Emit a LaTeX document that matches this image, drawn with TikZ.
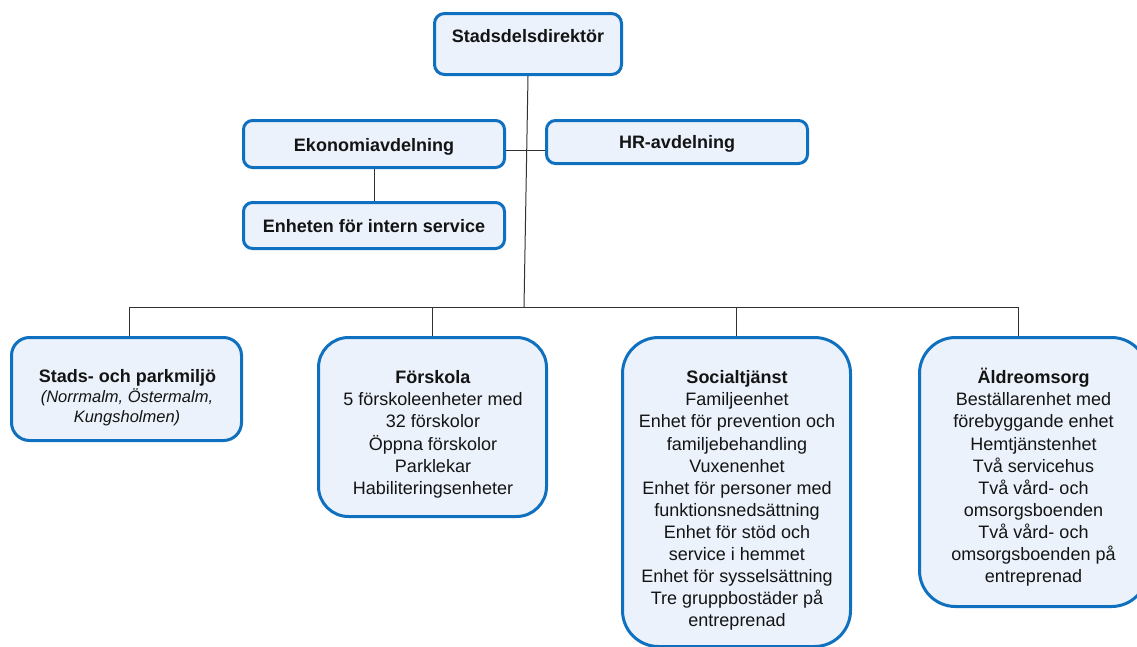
\documentclass[tikz,border=0pt]{standalone}
\usepackage{fontspec}
\setmainfont{Liberation Sans}
\definecolor{boxblue}{RGB}{16,112,192}
\definecolor{boxfill}{RGB}{235,242,251}
\definecolor{linegray}{RGB}{50,50,50}
\definecolor{txtblack}{RGB}{20,20,20}
\begin{document}
\begin{tikzpicture}[x=1pt,y=-1pt,
  box/.style={draw=boxblue, fill=boxfill, line width=3pt, rounded corners=#1, inner sep=0pt},
  box/.default=9pt,
  title/.style={inner sep=0pt, text=txtblack, font=\fontsize{18}{22.1}\selectfont\bfseries},
  txt/.style={inner sep=0pt, align=center, text=txtblack, font=\fontsize{18}{22.1}\selectfont},
  itx/.style={inner sep=0pt, align=center, text=txtblack, font=\fontsize{16.5}{20}\selectfont\itshape},
  conn/.style={draw=linegray, line width=1pt}
]
\useasboundingbox (0,0) rectangle (1137,646);

% top level
\node[box=10pt, minimum width=187pt, minimum height=61pt] (dir) at (528,44) {};
\node[title, anchor=base] (dirt) at (528,42) {Stadsdelsdirektör};

\node[box, minimum width=261pt, minimum height=47pt] (eko) at (374,144) {};
\node[title, anchor=base] (ekot) at (374,151) {Ekonomiavdelning};

\node[box, minimum width=261pt, minimum height=43pt] (hr) at (677,142) {};
\node[title, anchor=base] (hrt) at (677,148) {HR-avdelning};

\node[box, minimum width=261pt, minimum height=46pt] (enh) at (374,225.5) {};
\node[title, anchor=base] (enht) at (374,232) {Enheten för intern service};

% connectors upper part
\coordinate (lk) at (525.5,150);
\coordinate (bus) at (524,307);
\coordinate (busL) at (129,307);
\coordinate (busR) at (1018,307);
\draw[conn] (dir.south) -- (bus);
\draw[conn] (eko.east |- lk) -- (hr.west |- lk);
\draw[conn] (eko.south) -- (enh.north);

% lower boxes
\node[box=18pt, minimum width=230pt, minimum height=103pt] (st) at (126.5,389) {};
\node[box=30pt, minimum width=228pt, minimum height=179pt] (fs) at (432.5,427) {};
\node[box=36pt, minimum width=228pt, minimum height=309pt] (so) at (736.5,492) {};
\node[box=36pt, minimum width=228pt, minimum height=269pt] (al) at (1033.5,472) {};

\draw[conn] (busL) -- (busR);
\draw[conn] (busL) -- (busL |- st.north);
\draw[conn] (fs.north) -- (fs.north |- bus);
\draw[conn] (so.north) -- (so.north |- bus);
\draw[conn] (busR) -- (busR |- al.north);

% texts
\node[title, anchor=base] (stt) at (127.5,382) {Stads- och parkmiljö};
\node[itx, anchor=north] (sti) at (127,386.5) {\rule{0pt}{15.5pt}(Norrmalm, Östermalm,\\Kungsholmen)};

\node[txt, anchor=north] (fst) at (433,366.5) {\rule{0pt}{17pt}\textbf{Förskola}\\5 förskoleenheter med\\32 förskolor\\Öppna förskolor\\Parklekar\\Habiliteringsenheter};

\node[txt, anchor=north] (sot) at (737,366.5) {\rule{0pt}{17pt}\textbf{Socialtjänst}\\Familjeenhet\\Enhet för prevention och\\familjebehandling\\Vuxenenhet\\Enhet för personer med\\funktionsnedsättning\\Enhet för stöd och\\service i hemmet\\Enhet för sysselsättning\\Tre gruppbostäder på\\entreprenad};

\node[txt, anchor=north] (alt) at (1033.5,366.5) {\rule{0pt}{17pt}\textbf{Äldreomsorg}\\Beställarenhet med\\förebyggande enhet\\Hemtjänstenhet\\Två servicehus\\Två vård- och\\omsorgsboenden\\Två vård- och\\omsorgsboenden på\\entreprenad};
\end{tikzpicture}
\end{document}
